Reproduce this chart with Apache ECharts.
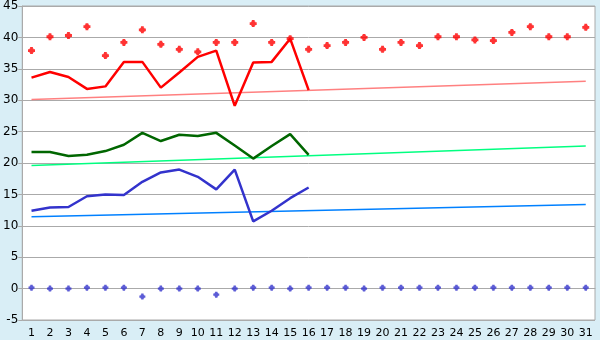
<!DOCTYPE html>
<html>
<head>
<meta charset="utf-8">
<script src="https://cdn.jsdelivr.net/npm/echarts@6/dist/echarts.min.js"></script>
<style>
html,body{margin:0;padding:0;background:#d9eef6;}
#c{width:600px;height:340px;}
</style>
</head>
<body>
<div id="c"></div>
<script>
const categories = ['1','2','3','4','5','6','7','8','9','10','11','12','13','14','15','16','17','18','19','20','21','22','23','24','25','26','27','28','29','30','31'];
const redPoints = [37.9,40.1,40.3,41.7,37.1,39.2,41.2,38.9,38.1,37.7,39.2,39.2,42.2,39.2,39.8,38.1,38.7,39.2,40.0,38.1,39.2,38.7,40.1,40.1,39.6,39.5,40.8,41.7,40.1,40.1,41.6];
const redLine = [33.6,34.5,33.7,31.8,32.2,36.1,36.1,32.0,34.4,36.9,37.9,29.1,36.0,36.1,39.8,31.6];
const greenLine = [21.75,21.75,21.1,21.3,21.9,22.9,24.8,23.5,24.5,24.3,24.8,22.8,20.7,22.7,24.6,21.3];
const blueLine = [12.4,12.9,13.0,14.7,15.0,14.9,17.0,18.5,18.95,17.8,15.8,18.95,10.7,12.4,14.4,16.1];
const bluePoints = [0.15,0,0,0.15,0.15,0.15,-1.27,0,0,0,-0.96,0,0.15,0.15,0,0.15,0.15,0.15,0,0.15,0.15,0.15,0.15,0.15,0.15,0.15,0.15,0.15,0.15,0.15,0.15];
const redTrend = [30.1, 33.0];   // start (day 1), end (day 31)
const greenTrend = [19.6, 22.7];
const blueTrend = [11.45, 13.4];
const yTicks = {min: -5, max: 45, interval: 5};

function trendData(t){
  const d = categories.map(() => null);
  d[0] = t[0]; d[d.length-1] = t[1];
  return d;
}

const plusSymbol = 'path://M1.5,0 H3.5 V1 H4 V1.5 H5 V3.5 H4 V4 H3.5 V5 H1.5 V4 H1 V3.5 H0 V1.5 H1 V1 H1.5 Z';
const font = 'DejaVu Sans';
const chart = echarts.init(document.getElementById('c'), null, {renderer:'canvas'});
chart.setOption({
  backgroundColor: '#d9eef6',
  animation: false,
  grid: {left: 21, right: 5, top: 5, bottom: 20, show: true, backgroundColor: '#ffffff', borderColor: '#aaaaaa', borderWidth: 1},
  xAxis: {
    type: 'category', data: categories, boundaryGap: true,
    axisLine: {lineStyle: {color: '#aaaaaa', width: 1}},
    axisTick: {alignWithLabel: true, length: 5, lineStyle: {color: '#333333'}},
    axisLabel: {color: '#000', fontFamily: font, fontSize: 11, margin: 8, interval: 0},
    splitLine: {show: false}
  },
  yAxis: {
    type: 'value', min: yTicks.min, max: yTicks.max, interval: yTicks.interval,
    axisLine: {show: true, lineStyle: {color: '#aaaaaa', width: 1}},
    axisTick: {show: true, length: 4, lineStyle: {color: '#aaaaaa'}},
    axisLabel: {color: '#000', fontFamily: font, fontSize: 12, margin: 4},
    splitLine: {lineStyle: {color: '#aaaaaa', width: 1}}
  },
  series: [
    {type: 'line', data: trendData(redTrend), connectNulls: true, symbol: 'none', lineStyle: {color: '#ff8080', width: 1.5}, z: 1},
    {type: 'line', data: trendData(greenTrend), connectNulls: true, symbol: 'none', lineStyle: {color: '#00ff80', width: 1.5}, z: 1},
    {type: 'line', data: trendData(blueTrend), connectNulls: true, symbol: 'none', lineStyle: {color: '#0080ff', width: 1.5}, z: 1},
    {type: 'line', data: redLine, symbol: 'none', lineStyle: {color: '#ff0000', width: 2.5}, z: 3},
    {type: 'line', data: greenLine, symbol: 'none', lineStyle: {color: '#006600', width: 2.5}, z: 3},
    {type: 'line', data: blueLine, symbol: 'none', lineStyle: {color: '#3333cc', width: 2.5}, z: 3},
    {type: 'scatter', data: redPoints, symbol: plusSymbol, symbolSize: 7, itemStyle: {color: '#ff0000'}, z: 4},
    {type: 'scatter', data: bluePoints, symbol: plusSymbol, symbolSize: 6, itemStyle: {color: '#3333cc'}, z: 4}
  ]
});
</script>
</body>
</html>
